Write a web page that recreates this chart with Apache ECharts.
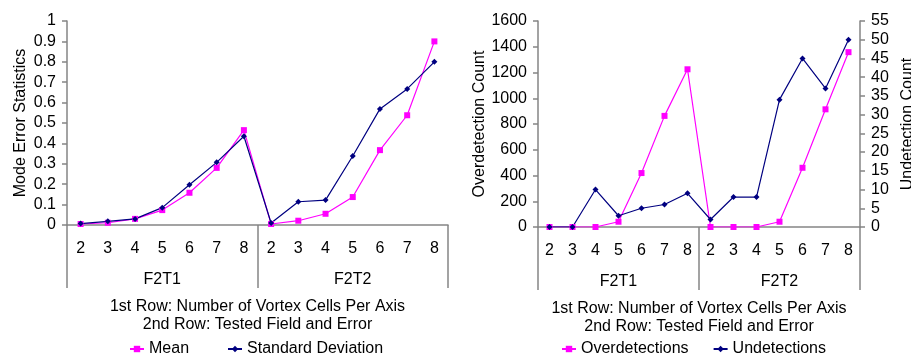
<!DOCTYPE html>
<html>
<head>
<meta charset="utf-8">
<script src="https://cdn.jsdelivr.net/npm/echarts@6/dist/echarts.min.js"></script>
<style>
  html, body { margin: 0; padding: 0; background: #fff; }
  #chart { width: 911px; height: 356px; }
</style>
</head>
<body>
<div id="chart"></div>
<script>
// Vortex cell counts per axis, repeated for each tested field
const cellCounts = ['2', '3', '4', '5', '6', '7', '8', '2', '3', '4', '5', '6', '7', '8'];
const fields = ['F2T1', 'F2T2'];

// Mode error statistics
const meanError = [0.005, 0.011, 0.03, 0.073, 0.158, 0.28, 0.465,
                   0.005, 0.021, 0.055, 0.137, 0.367, 0.538, 0.90];
const stdError = [0.007, 0.018, 0.03, 0.085, 0.197, 0.307, 0.435,
                  0.01, 0.114, 0.122, 0.338, 0.569, 0.667, 0.80];

// Detection counts
const overdetections = [0, 0, 0, 41, 419, 863, 1225,
                        0, 0, 0, 41, 460, 914, 1358];
const undetections = [0, 0, 10, 3, 5, 6, 9,
                      2, 8, 8, 34, 45, 37, 50];

const axisTitle = '1st Row: Number of Vortex Cells Per Axis\n2nd Row: Tested Field and Error';

const FONT = '"Liberation Sans", Arial, Helvetica, sans-serif';
const GRAY = '#858585';
const MAGENTA = '#ff00ff';
const NAVY = '#000080';
const txt = { color: '#000', fontFamily: FONT, fontSize: 16 };

function cellAxis(gridIndex) {
  return {
    type: 'category', gridIndex, data: cellCounts, boundaryGap: true,
    axisLine: { show: true, lineStyle: { color: GRAY, width: 1.5 } },
    axisTick: { show: false },
    axisLabel: Object.assign({ interval: 0, margin: 16 }, txt),
    splitLine: { show: false }
  };
}
function fieldAxis(gridIndex) {
  return {
    type: 'category', gridIndex, data: fields, boundaryGap: true, position: 'bottom',
    axisLine: { show: false },
    axisTick: { show: true, interval: 0, length: 63, lineStyle: { color: GRAY, width: 1.5 } },
    axisLabel: Object.assign({ interval: 0, margin: 47 }, txt),
    name: axisTitle, nameLocation: 'middle', nameGap: 73,
    nameTextStyle: Object.assign({ lineHeight: 18 }, txt),
    splitLine: { show: false }
  };
}
function valueAxis(gridIndex, max, interval, name, position, nameGap) {
  return {
    type: 'value', gridIndex, min: 0, max, interval, position,
    axisLine: { show: true, lineStyle: { color: GRAY, width: 1.5 } },
    axisTick: { show: true, length: 5, lineStyle: { color: GRAY, width: 1.5 } },
    axisLabel: Object.assign({ margin: 11, formatter: v => String(+v.toFixed(2)) }, txt),
    splitLine: { show: false },
    name, nameLocation: 'middle', nameRotate: 90, nameGap,
    nameTextStyle: txt
  };
}
function lineSeries(name, data, color, symbol, size, xAxisIndex, yAxisIndex) {
  return {
    type: 'line', name, data, xAxisIndex, yAxisIndex,
    symbol, symbolSize: size, showSymbol: true,
    lineStyle: { color, width: 1.2 },
    itemStyle: { color },
    animation: false
  };
}

const chart = echarts.init(document.getElementById('chart'), null, { renderer: 'canvas' });
chart.setOption({
  animation: false,
  textStyle: { fontFamily: FONT },
  grid: [
    { left: 67, right: 463, top: 21, bottom: 131, outerBoundsMode: 'none' },
    { left: 538, right: 51, top: 21, bottom: 129, outerBoundsMode: 'none' }
  ],
  xAxis: [cellAxis(0), fieldAxis(0), cellAxis(1), fieldAxis(1)],
  yAxis: [
    valueAxis(0, 1, 0.1, 'Mode Error Statistics', 'left', 38),
    valueAxis(1, 1600, 200, 'Overdetection Count', 'left', 50),
    valueAxis(1, 55, 5, 'Undetection Count', 'right', 40)
  ],
  legend: [
    { data: ['Mean', 'Standard Deviation'], left: 124, top: 336, itemWidth: 14, itemHeight: 8,
      itemGap: 38, textStyle: txt },
    { data: ['Overdetections', 'Undetections'], left: 556, top: 336, itemWidth: 14, itemHeight: 8,
      itemGap: 24, textStyle: txt }
  ],
  series: [
    lineSeries('Mean', meanError, MAGENTA, 'rect', 6, 0, 0),
    lineSeries('Standard Deviation', stdError, NAVY, 'diamond', 6, 0, 0),
    lineSeries('Overdetections', overdetections, MAGENTA, 'rect', 6, 2, 1),
    lineSeries('Undetections', undetections, NAVY, 'diamond', 6, 2, 2)
  ]
});
</script>
</body>
</html>
